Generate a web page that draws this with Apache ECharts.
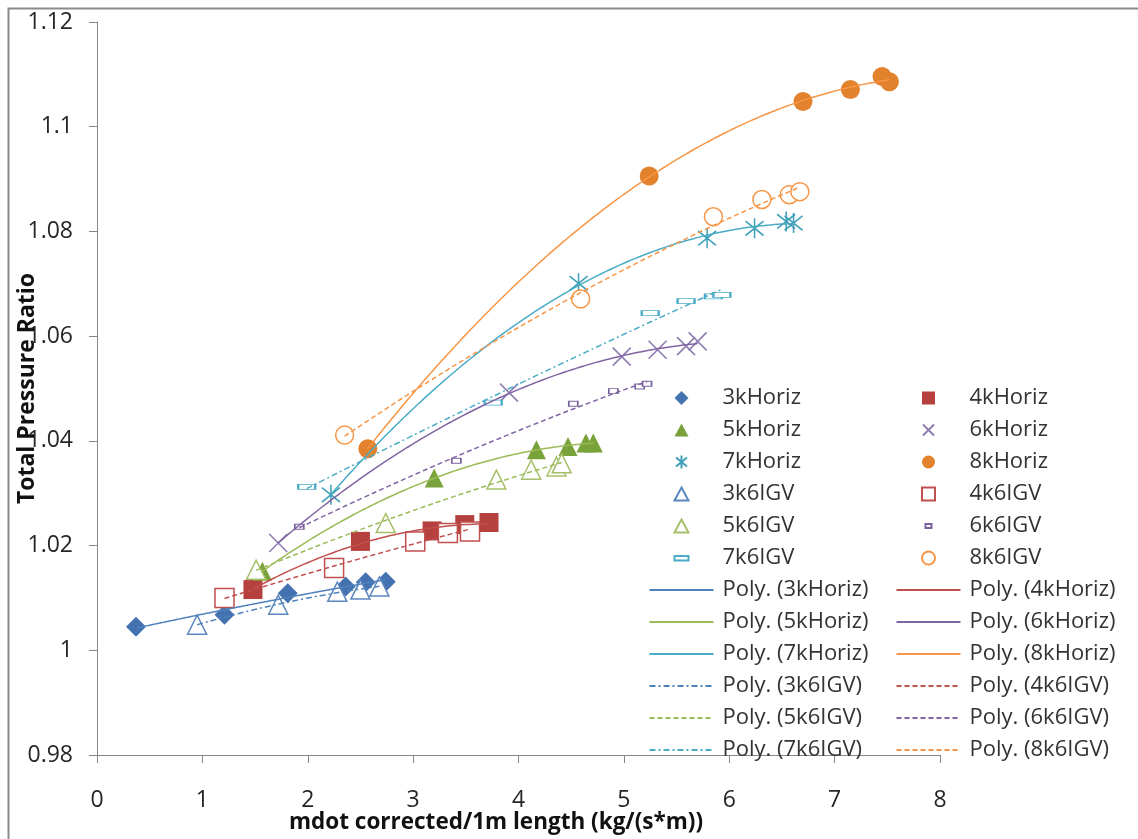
<!DOCTYPE html>
<html>
<head>
<meta charset="utf-8">
<script src="https://cdn.jsdelivr.net/npm/echarts@6/dist/echarts.min.js"></script>
<style>
html,body{margin:0;padding:0;background:#fff;}
#c{width:1138px;height:839px;}
</style>
</head>
<body>
<div id="c"></div>
<script>
// ---- data ----
const x3kHoriz = [0.37, 1.21, 1.81, 2.36, 2.55, 2.74];
const y3kHoriz = [1.0045, 1.0068, 1.0109, 1.0122, 1.0130, 1.0131];
const x4kHoriz = [1.48, 2.50, 3.18, 3.49, 3.72];
const y4kHoriz = [1.0116, 1.0208, 1.0228, 1.0240, 1.0244];
const x5kHoriz = [1.57, 3.20, 4.17, 4.47, 4.64, 4.71];
const y5kHoriz = [1.0151, 1.0329, 1.0383, 1.0389, 1.0396, 1.0396];
const x6kHoriz = [1.72, 3.91, 4.98, 5.32, 5.59, 5.70];
const y6kHoriz = [1.0205, 1.0492, 1.0561, 1.0574, 1.0581, 1.0590];
const x7kHoriz = [2.22, 4.57, 5.79, 6.24, 6.54, 6.61];
const y7kHoriz = [1.0297, 1.0701, 1.0787, 1.0806, 1.0819, 1.0816];
const x8kHoriz = [2.57, 5.24, 6.70, 7.15, 7.45, 7.52];
const y8kHoriz = [1.0385, 1.0906, 1.1048, 1.1071, 1.1096, 1.1086];
const x3k6IGV = [0.95, 1.72, 2.28, 2.50, 2.68];
const y3k6IGV = [1.0049, 1.0087, 1.0112, 1.0116, 1.0122];
const x4k6IGV = [1.21, 2.25, 3.02, 3.33, 3.54];
const y4k6IGV = [1.0100, 1.0157, 1.0208, 1.0224, 1.0227];
const x5k6IGV = [1.51, 2.74, 3.79, 4.12, 4.36, 4.41];
const y5k6IGV = [1.0154, 1.0243, 1.0326, 1.0345, 1.0351, 1.0357];
const x6k6IGV = [1.92, 3.41, 4.52, 4.90, 5.15, 5.22];
const y6k6IGV = [1.0236, 1.0362, 1.0471, 1.0495, 1.0504, 1.0509];
const x7k6IGV = [1.99, 3.76, 5.25, 5.59, 5.85, 5.93];
const y7k6IGV = [1.0312, 1.0473, 1.0644, 1.0667, 1.0676, 1.0679];
const x8k6IGV = [2.35, 4.59, 5.85, 6.31, 6.57, 6.67];
const y8k6IGV = [1.0411, 1.0671, 1.0828, 1.0861, 1.0870, 1.0876];

const xAxisMin = 0, xAxisMax = 8, xAxisStep = 1;
const yAxisMin = 0.98, yAxisMax = 1.12, yAxisStep = 0.02;
const xTitle = 'mdot corrected/1m length (kg/(s*m))';
const yTitle = 'Total Pressure Ratio';

// ---- styling per series ----
const FONT = 'Open Sans';
const XPATH = 'path://M0,0L10,10M10,0L0,10';
const STAR = 'path://M5,0L5,10M0.6,1.4L9.4,8.6M9.4,1.4L0.6,8.6';
// legend icons: drawn in a 64x14 box, marker centred
const B = 'path://M0,0M64,14';
const IC = {
  diamond: B + 'M32,0L39,7L32,14L25,7Z',
  rect: B + 'M25.5,0.5h13v13h-13Z',
  triangle: B + 'M32,0.5L39,13.5L25,13.5Z',
  circle: B + 'M25.5,7A6.5,6.5,0,1,1,38.5,7A6.5,6.5,0,1,1,25.5,7Z',
  x: B + 'M26.5,1.5L37.5,12.5M37.5,1.5L26.5,12.5',
  star: B + 'M32,0.5L32,13.5M26.5,2.5L37.5,11.5M37.5,2.5L26.5,11.5',
  thin: B + 'M25,5h14v4.5h-14Z',
  small: B + 'M29,5h6v4h-6Z'
};
const seriesDefs = [
  {name:'3kHoriz', x:x3kHoriz, y:y3kHoriz, symbol:'diamond', size:20, fill:'#4472B0', stroke:'#4472B0', bw:0, icon:IC.diamond, line:'#4F81BD', dash:'solid'},
  {name:'4kHoriz', x:x4kHoriz, y:y4kHoriz, symbol:'rect', size:19, fill:'#B5403D', stroke:'#B5403D', bw:0, icon:IC.rect, line:'#C0504D', dash:'solid'},
  {name:'5kHoriz', x:x5kHoriz, y:y5kHoriz, symbol:'triangle', size:19, fill:'#79A23B', stroke:'#79A23B', bw:0, icon:IC.triangle, line:'#9BBB59', dash:'solid'},
  {name:'6kHoriz', x:x6kHoriz, y:y6kHoriz, symbol:XPATH, size:18, fill:'none', stroke:'#8F7DB2', bw:1.6, icon:IC.x, line:'#8064A2', dash:'solid'},
  {name:'7kHoriz', x:x7kHoriz, y:y7kHoriz, symbol:STAR, size:[18,20], fill:'none', stroke:'#3FA0B8', bw:1.6, icon:IC.star, line:'#4BACC6', dash:'solid'},
  {name:'8kHoriz', x:x8kHoriz, y:y8kHoriz, symbol:'circle', size:19, fill:'#E2822C', stroke:'#E2822C', bw:0, icon:IC.circle, line:'#F79646', dash:'solid'},
  {name:'3k6IGV', x:x3k6IGV, y:y3k6IGV, symbol:'triangle', size:19, fill:'#ffffff', stroke:'#5B86BE', bw:1.5, icon:IC.triangle, line:'#4F81BD', dash:[6,3,2,3]},
  {name:'4k6IGV', x:x4k6IGV, y:y4k6IGV, symbol:'rect', size:19, fill:'#ffffff', stroke:'#C0504D', bw:1.5, icon:IC.rect, line:'#C0504D', dash:[5,3]},
  {name:'5k6IGV', x:x5k6IGV, y:y5k6IGV, symbol:'triangle', size:19, fill:'#ffffff', stroke:'#A6C06A', bw:1.5, icon:IC.triangle, line:'#9BBB59', dash:[5,3]},
  {name:'6k6IGV', x:x6k6IGV, y:y6k6IGV, symbol:'rect', size:[9,5], fill:'#ffffff', stroke:'#7A62A0', bw:1.3, icon:IC.small, line:'#8064A2', dash:[5,3]},
  {name:'7k6IGV', x:x7k6IGV, y:y7k6IGV, symbol:'rect', size:[17,5], fill:'#ffffff', stroke:'#4BACC6', bw:1.3, icon:IC.thin, line:'#4BACC6', dash:[6,3,2,3]},
  {name:'8k6IGV', x:x8k6IGV, y:y8k6IGV, symbol:'circle', size:18, fill:'#ffffff', stroke:'#F79646', bw:1.5, icon:IC.circle, line:'#F79646', dash:[5,3]}
];

// Excel-style polynomial (order 2) trendline: least squares fit of the data points
function polyFit2(xs, ys) {
  let n = xs.length, s1=0, s2=0, s3=0, s4=0, t0=0, t1=0, t2=0;
  for (let i = 0; i < n; i++) {
    const x = xs[i], y = ys[i];
    s1 += x; s2 += x*x; s3 += x*x*x; s4 += x*x*x*x;
    t0 += y; t1 += x*y; t2 += x*x*y;
  }
  const A = [[n, s1, s2],[s1, s2, s3],[s2, s3, s4]];
  const Bv = [t0, t1, t2];
  const det = m => m[0][0]*(m[1][1]*m[2][2]-m[1][2]*m[2][1]) - m[0][1]*(m[1][0]*m[2][2]-m[1][2]*m[2][0]) + m[0][2]*(m[1][0]*m[2][1]-m[1][1]*m[2][0]);
  const D = det(A);
  return [0,1,2].map(k => det(A.map((row, r) => row.map((v, c) => c === k ? Bv[r] : v))) / D);
}
function trend(xs, ys) {
  const c = polyFit2(xs, ys);
  const lo = Math.min(...xs), hi = Math.max(...xs);
  const pts = [];
  const N = 120;
  for (let i = 0; i <= N; i++) {
    const x = lo + (hi - lo) * i / N;
    pts.push([x, c[0] + c[1]*x + c[2]*x*x]);
  }
  return pts;
}

const series = [];
seriesDefs.forEach(d => {
  series.push({
    name: d.name, type: 'scatter', symbol: d.symbol, symbolSize: d.size,
    data: d.x.map((v, i) => [v, d.y[i]]),
    itemStyle: {color: d.fill, borderColor: d.stroke, borderWidth: d.bw, opacity: 1},
    z: 2
  });
});
seriesDefs.forEach(d => {
  series.push({
    name: 'Poly. (' + d.name + ')', type: 'line', symbol: 'none', smooth: false,
    data: trend(d.x, d.y),
    lineStyle: {color: d.line, width: 1.5, type: d.dash},
    itemStyle: {color: d.line},
    z: 3
  });
});

const byName = {};
seriesDefs.forEach(d => { byName[d.name] = d; });
const col1Names = ['3kHoriz','5kHoriz','7kHoriz','3k6IGV','5k6IGV','7k6IGV'];
const col2Names = ['4kHoriz','6kHoriz','8kHoriz','4k6IGV','6k6IGV','8k6IGV'];
const colData = names => names.map(n => ({name: n, icon: byName[n].icon}))
  .concat(names.map(n => ({name: 'Poly. (' + n + ')', itemStyle: {opacity: 0}})));
const legendCommon = {
  orient: 'vertical', top: 382, itemWidth: 64, itemHeight: 14, itemGap: 10,
  selectedMode: false, symbolKeepAspect: false,
  textStyle: {fontFamily: FONT, fontSize: 22, color: '#333333', padding: [0, 0, 0, 4]}
};

const axisColor = '#868686';
const option = {
  animation: false,
  backgroundColor: '#ffffff',
  grid: {left: 97, right: 198, top: 22, bottom: 84, containLabel: false, outerBoundsMode: 'none'},
  xAxis: {
    type: 'value', min: xAxisMin, max: xAxisMax, interval: xAxisStep,
    name: xTitle, nameLocation: 'middle', nameGap: 56, nameMoveOverlap: false,
    nameTextStyle: {fontFamily: FONT, fontSize: 22.5, fontWeight: 'bold', color: '#111', padding: [0, 45, 0, 0]},
    axisLine: {show: true, lineStyle: {color: axisColor, width: 1}},
    axisTick: {show: true, length: 8, lineStyle: {color: axisColor}},
    axisLabel: {fontFamily: FONT, fontSize: 23, color: '#262626', margin: 34},
    splitLine: {show: false}
  },
  yAxis: {
    type: 'value', min: yAxisMin, max: yAxisMax, interval: yAxisStep,
    name: yTitle, nameLocation: 'middle', nameGap: 58, nameRotate: 90, nameMoveOverlap: false,
    nameTextStyle: {fontFamily: FONT, fontSize: 23, fontWeight: 'bold', color: '#111'},
    axisLine: {show: true, lineStyle: {color: axisColor, width: 1}},
    axisTick: {show: true, length: 8, lineStyle: {color: axisColor}},
    axisLabel: {fontFamily: FONT, fontSize: 23, color: '#262626', margin: 24,
      formatter: v => String(+v.toFixed(2))},
    splitLine: {show: false}
  },
  legend: [
    Object.assign({left: 642, data: colData(col1Names)}, legendCommon),
    Object.assign({left: 889, data: colData(col2Names)}, legendCommon)
  ],
  graphic: [{
    type: 'rect', left: 6, top: 6, z: 100, silent: true,
    shape: {width: 1200, height: 900},
    style: {fill: 'none', stroke: '#8a8a8a', lineWidth: 2}
  }],
  series: series
};
const chart = echarts.init(document.getElementById('c'), null, {renderer: 'canvas'});
chart.setOption(option);
</script>
</body>
</html>
